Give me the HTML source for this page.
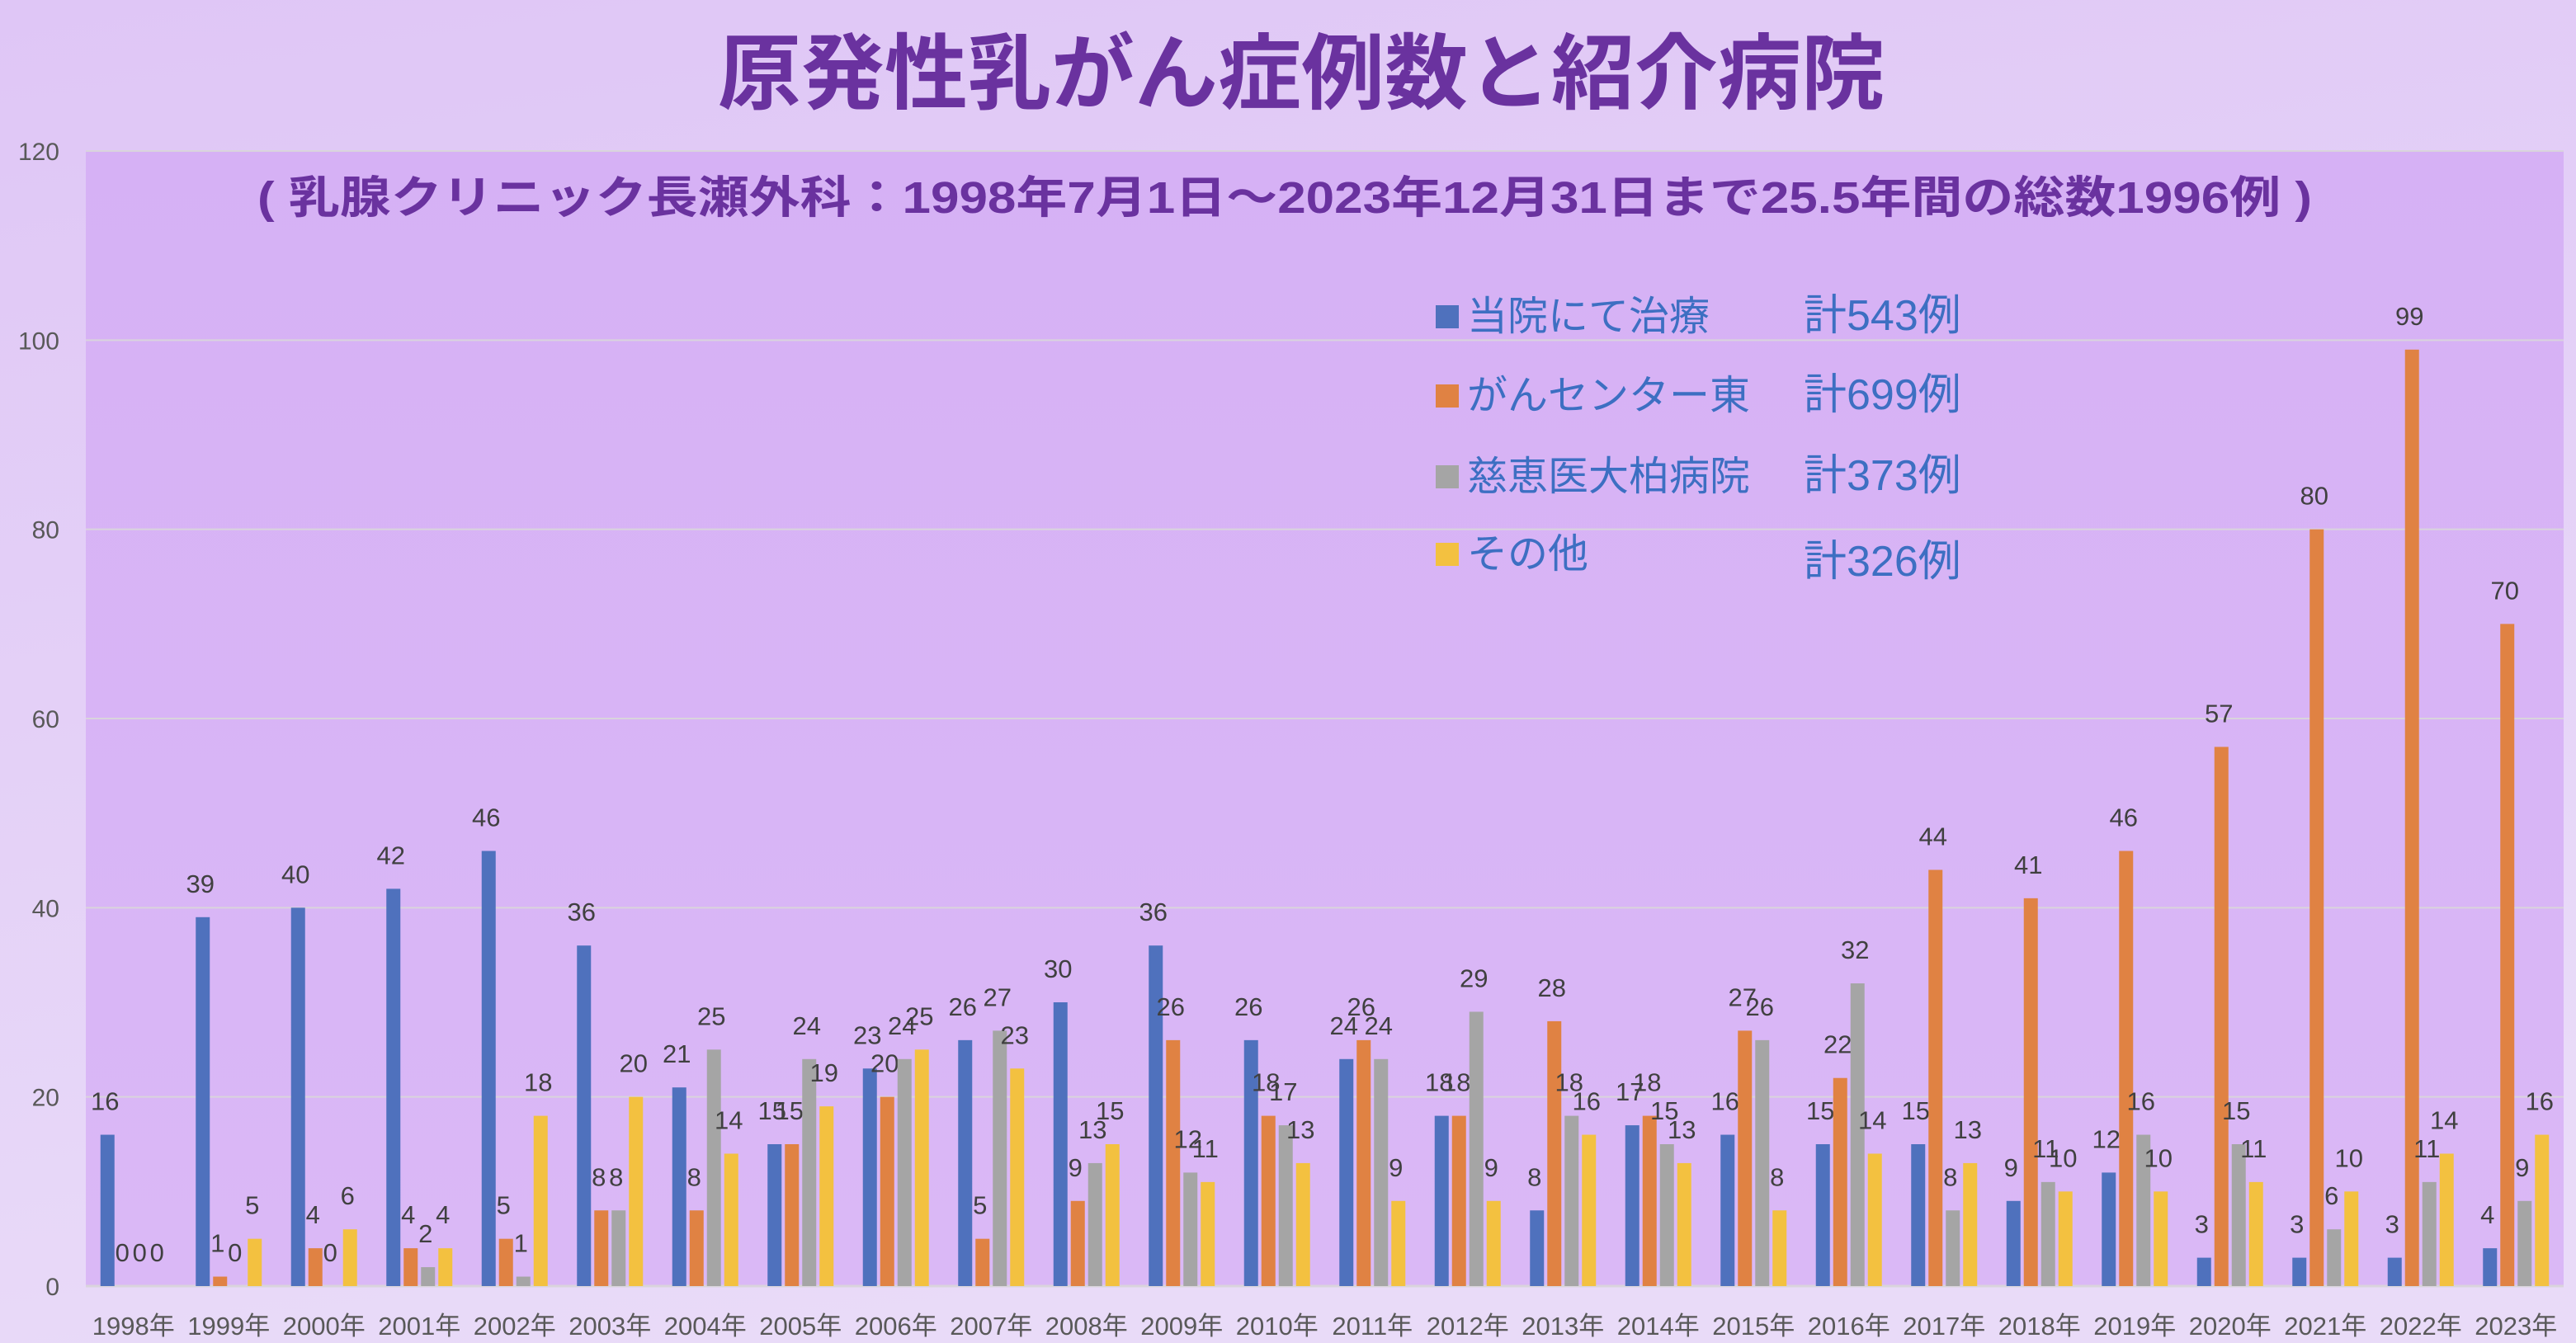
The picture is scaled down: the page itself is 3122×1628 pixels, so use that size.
<!DOCTYPE html>
<html><head><meta charset="utf-8">
<style>
html,body{margin:0;padding:0;}
body{width:3122px;height:1628px;overflow:hidden;background:linear-gradient(160deg,#dcc4f5 0%,#e6d6f7 50%,#eadcf7 100%);font-family:"Liberation Sans","Noto Sans CJK JP",sans-serif;}
svg{display:block;}
</style></head>
<body>
<svg id="chart" width="3122" height="1628" xmlns="http://www.w3.org/2000/svg">
<defs>
<linearGradient id="bg" x1="0" y1="0" x2="0.3" y2="1">
<stop offset="0" stop-color="#dfc6f6"/><stop offset="1" stop-color="#e9dbf8"/></linearGradient>
<linearGradient id="pa" x1="0" y1="0" x2="0" y2="1">
<stop offset="0" stop-color="#d6b1f5"/><stop offset="1" stop-color="#dab8f6"/></linearGradient>
</defs>
<rect x="0" y="0" width="3122" height="1628" fill="url(#bg)"/>
<rect x="104" y="183" width="3003" height="1376" fill="url(#pa)"/>
<text x="1577" y="124" text-anchor="middle" textLength="1414" lengthAdjust="spacingAndGlyphs" font-size="100" font-weight="bold" fill="#6a329f" font-family="'Liberation Sans','Noto Sans CJK JP',sans-serif">原発性乳がん症例数と紹介病院</text>
<text x="312" y="258" textLength="2490" lengthAdjust="spacingAndGlyphs" font-size="54" font-weight="bold" fill="#6a329f" font-family="'Liberation Sans','Noto Sans CJK JP',sans-serif">( 乳腺クリニック長瀬外科：1998年7月1日～2023年12月31日まで25.5年間の総数1996例 )</text>
<g id="grid"></g>
<g id="bars"></g>
<g id="legend"></g>
</svg>
<script>
const categories=["1998年","1999年","2000年","2001年","2002年","2003年","2004年","2005年","2006年","2007年","2008年","2009年","2010年","2011年","2012年","2013年","2014年","2015年","2016年","2017年","2018年","2019年","2020年","2021年","2022年","2023年"];
const ownValues=[16,39,40,42,46,36,21,15,23,26,30,36,26,24,18,8,17,16,15,15,9,12,3,3,3,4];
const centerEastValues=[0,1,4,4,5,8,8,15,20,5,9,26,18,26,18,28,18,27,22,44,41,46,57,80,99,70];
const jikeiValues=[0,0,0,2,1,8,25,24,24,27,13,12,17,24,29,18,15,26,32,8,11,16,15,6,11,9];
const otherValues=[0,5,6,4,18,20,14,19,25,23,15,11,13,9,9,16,13,8,14,13,10,10,11,10,14,16];
const yTicks=[0,20,40,60,80,100,120];
const seriesNames=["当院にて治療","がんセンター東","慈恵医大柏病院","その他"];
const seriesTotals=["計543例","計699例","計373例","計326例"];
const seriesColors=["#4f71bd","#e08243","#a5a5a5","#f3c140"];

const NS="http://www.w3.org/2000/svg";
const X0=104,X1=3107,Y0=1559,Y1=183,YMAX=120;
const groupW=(X1-X0)/categories.length;
const barW=17,barGap=4;
function yScale(v){return Y0-(v/YMAX)*(Y0-Y1);}
function xBar(i,s){const inner=4*barW+3*barGap;return X0+i*groupW+(groupW-inner)/2+s*(barW+barGap);}
function mk(tag,attrs,parent){const e=document.createElementNS(NS,tag);for(const k in attrs)e.setAttribute(k,attrs[k]);parent.appendChild(e);return e;}

const grid=document.getElementById('grid');
yTicks.forEach(t=>{
  const y=yScale(t);
  const l=mk('line',{x1:X0,x2:X1,y1:y,y2:y,stroke:'#d9d4dc','stroke-width':t===0?3:2},grid);
  
  
  const tx=mk('text',{x:72,y:y+11,'text-anchor':'end','font-size':30,fill:'#595959'},grid);
  tx.textContent=t;
  
  
});
categories.forEach((c,i)=>{
  const tx=mk('text',{x:X0+i*groupW+groupW/2,y:1618,'text-anchor':'middle','font-size':31,fill:'#595959'},grid);
  tx.textContent=c;
  
  
});

const bars=document.getElementById('bars');
const allSeries=[ownValues,centerEastValues,jikeiValues,otherValues];
allSeries.forEach((vals,s)=>{
  vals.forEach((v,i)=>{
    const x=xBar(i,s),y=yScale(v);
    if(v>0){
      const r=mk('rect',{x:x,y:y,width:barW,height:Y0-y,fill:seriesColors[s]},bars);
      
      
    }
    const t=mk('text',{x:x+barW/2-3,y:y-30,'text-anchor':'middle','font-size':31,fill:'#404040'},bars);
    t.textContent=v;
    
    
  });
});

const legend=document.getElementById('legend');
const legY=[400,496,594,688];
const totY=[400,496,594,698];
seriesNames.forEach((n,s)=>{
  const g=mk('g',{},legend);
  
  
  mk('rect',{x:1740,y:legY[s]-30,width:28,height:28,fill:seriesColors[s]},g);
  const t=mk('text',{x:1778,y:legY[s],'font-size':49,fill:'#3d6fc2'},g);
  t.textContent=n;
  const t2=mk('text',{x:2186,y:totY[s],'font-size':52,fill:'#3d6fc2'},g);
  t2.textContent=seriesTotals[s];
});
</script>
</body></html>
